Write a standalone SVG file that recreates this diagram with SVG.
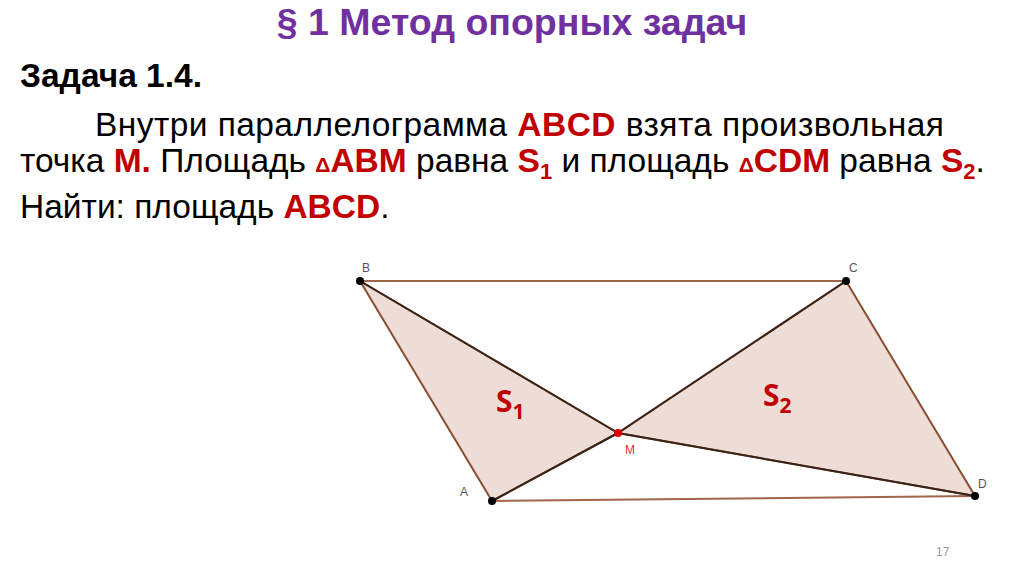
<svg xmlns="http://www.w3.org/2000/svg" width="1024" height="574" viewBox="0 0 1024 574">
<style>
.t{font-family:"Liberation Sans",Arial,sans-serif;}
.title{font-size:37.5px;font-weight:bold;fill:#7030A0;}
.body{font-size:33.5px;fill:#000;}
.b{font-weight:bold;}
.r{fill:#C00000;font-weight:bold;}
.d{font-size:21px;}
.sub{font-size:22px;}
.lbl{font-family:"Liberation Sans",Arial,sans-serif;font-size:12px;fill:#555;}
.tri{fill:#EEDDD6;stroke:#8A4A30;stroke-width:2;stroke-linejoin:round;}
.side{stroke:#A0654A;stroke-width:2;fill:none;}
.dark{stroke:#3A2418;stroke-width:2;fill:none;}
.pt{fill:#000;}
.S{font-family:"Open Sans","Liberation Sans",sans-serif;font-weight:bold;fill:#C00000;font-size:30px;}
</style>
<rect width="1024" height="574" fill="#fff"/>
<text class="t title" x="512" y="35" text-anchor="middle">§ 1 Метод опорных задач</text>
<text class="t body b" x="20" y="87">Задача 1.4.</text>
<text class="t body" x="95" y="136" textLength="849" lengthAdjust="spacing">Внутри параллелограмма <tspan class="r">ABCD</tspan> взята произвольная</text>
<text class="t body" x="20" y="172">точка <tspan class="r">M.</tspan> Площадь <tspan class="r d">Δ</tspan><tspan class="r">ABM</tspan> равна <tspan class="r">S</tspan><tspan class="r sub" dy="7">1</tspan><tspan dy="-7"> и площадь </tspan><tspan class="r d">Δ</tspan><tspan class="r">CDM</tspan> равна <tspan class="r">S</tspan><tspan class="r sub" dy="7">2</tspan><tspan dy="-7">.</tspan></text>
<text class="t body" x="20" y="218">Найти: площадь <tspan class="r">ABCD</tspan>.</text>
<g id="connectors">
<line class="side" x1="360" y1="281" x2="846" y2="281"/>
<line class="side" x1="492" y1="501" x2="975" y2="496"/>
</g>
<g id="triangle-ABM">
<polygon class="tri" points="360,281 618,433 492,501"/>
<line class="dark" x1="360" y1="281" x2="618" y2="433"/>
<line class="dark" x1="492" y1="501" x2="618" y2="433"/>
</g>
<g id="triangle-CDM">
<polygon class="tri" points="846,281 975,496 618,433"/>
<line class="dark" x1="618" y1="433" x2="846" y2="281"/>
<line class="dark" x1="618" y1="433" x2="975" y2="496" stroke="#111"/>
</g>
<g id="node-B"><circle class="pt" cx="360" cy="281" r="4"/><text class="lbl" x="362" y="272">B</text></g>
<g id="node-C"><circle class="pt" cx="846" cy="281" r="4"/><text class="lbl" x="849" y="272">C</text></g>
<g id="node-A"><circle class="pt" cx="492" cy="501" r="4"/><text class="lbl" x="460" y="496">A</text></g>
<g id="node-D"><circle class="pt" cx="975" cy="496" r="4"/><text class="lbl" x="978" y="488">D</text></g>
<g id="node-M"><circle cx="618" cy="433" r="4" fill="#E00000"/><text class="lbl" x="625" y="454" style="fill:#E03030">M</text></g>
<text class="S" x="496" y="412">S<tspan font-size="21" dy="7">1</tspan></text>
<text class="S" x="763" y="406">S<tspan font-size="21" dy="7">2</tspan></text>
<text class="lbl" x="936" y="556" style="fill:#999">17</text>
</svg>
